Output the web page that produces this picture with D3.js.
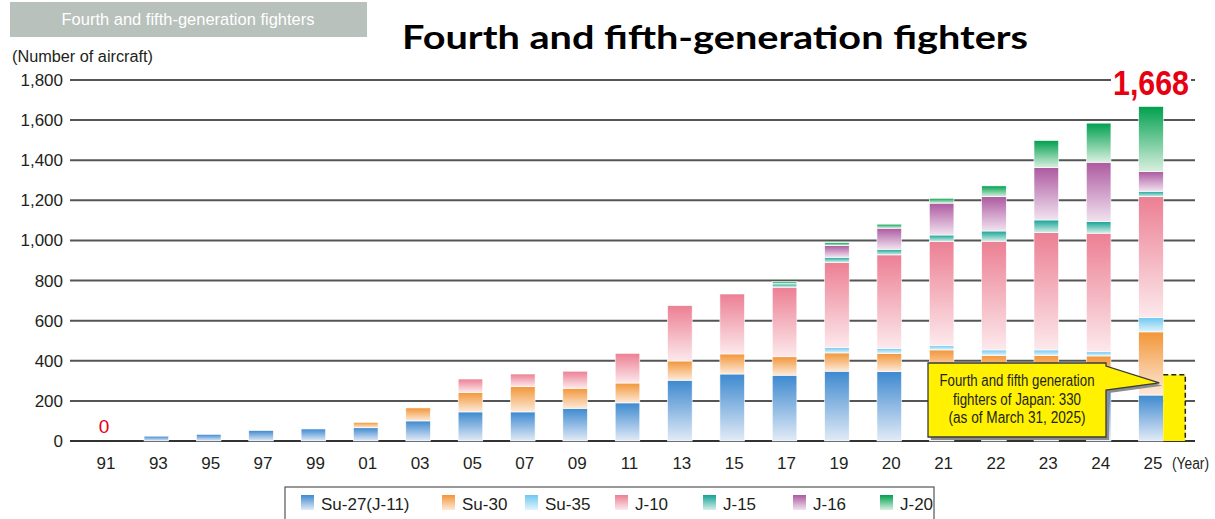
<!DOCTYPE html>
<html>
<head>
<meta charset="utf-8">
<script src="https://cdn.jsdelivr.net/npm/d3@7"></script>
<style>
  body { margin: 0; background: #fff; }
  svg { display: block; }
  .narrow { font-family: "Liberation Sans Narrow", "Arial Narrow", "Liberation Sans", sans-serif; }
</style>
</head>
<body>
<svg id="chart" width="1215" height="519"></svg>
<script>
// data (number of aircraft)
const years = ["91","93","95","97","99","01","03","05","07","09","11","13","15","17","19","20","21","22","23","24","25"];
const su27 = [0, 24, 33, 52, 60, 66, 100, 145, 145, 163, 190, 303, 334, 328, 348, 346, 340, 320, 290, 246, 229];
const su30 = [0, 0, 0, 0, 0, 27, 65, 98, 126, 100, 99, 96, 100, 92, 91, 91, 114, 107, 137, 178, 315];
const su35 = [0, 0, 0, 0, 0, 0, 0, 0, 0, 0, 0, 0, 0, 0, 26, 25, 23, 27, 27, 21, 71];
const j10  = [0, 0, 0, 0, 0, 0, 0, 66, 63, 85, 148, 276, 299, 347, 426, 466, 517, 542, 585, 591, 603];
const j15  = [0, 0, 0, 0, 0, 0, 0, 0, 0, 0, 0, 0, 0, 16, 25, 28, 33, 51, 63, 58, 27];
const j16  = [0, 0, 0, 0, 0, 0, 0, 0, 0, 0, 0, 0, 0, 0, 58, 105, 159, 171, 261, 296, 98];
const j20  = [0, 0, 0, 0, 0, 0, 0, 0, 0, 0, 0, 0, 0, 12, 15, 20, 24, 54, 135, 195, 325];
const seriesNames = ["Su-27(J-11)", "Su-30", "Su-35", "J-10", "J-15", "J-16", "J-20"];
const yTicks = [0, 200, 400, 600, 800, 1000, 1200, 1400, 1600, 1800];
const japanCount = 330;
const totalLabel = "1,668";
const calloutLines = ["Fourth and fifth generation", "fighters of Japan: 330", "(as of March 31, 2025)"];

const seriesValues = [su27, su30, su35, j10, j15, j16, j20];
const topColors = ["#3d89cf", "#f29638", "#6ec8f0", "#ec7f93", "#14a294", "#ad59a0", "#00a04e"];
const bottomColors = ["#e2ebf7", "#fdeada", "#e2f4fc", "#fce9ec", "#d6efeb", "#f1e3f0", "#d9f0e0"];

const rows = years.map((y, i) => {
  const r = { year: y };
  seriesNames.forEach((s, k) => r[s] = seriesValues[k][i]);
  return r;
});

const svg = d3.select("#chart");

const x = d3.scalePoint().domain(years).range([104, 1151]);
const barW = x.step() * 0.47;
const y = d3.scaleLinear().domain([0, 1800]).range([441, 80]);

// gradients, dark at top and pale at bottom
const defs = svg.append("defs");
seriesNames.forEach((s, k) => {
  const g = defs.append("linearGradient")
    .attr("id", "grad" + k)
    .attr("x1", 0).attr("y1", 0).attr("x2", 0).attr("y2", 1);
  g.append("stop").attr("offset", "0%").attr("stop-color", topColors[k]);
  g.append("stop").attr("offset", "100%").attr("stop-color", bottomColors[k]);
});

// header box
svg.append("rect")
  .attr("x", 10).attr("y", 2).attr("width", 357).attr("height", 35)
  .attr("fill", "#b8c1bc");
svg.append("text")
  .attr("class", "narrow")
  .attr("x", 188).attr("y", 25)
  .attr("text-anchor", "middle")
  .attr("font-size", 17).attr("fill", "#fff")
  .attr("textLength", 253).attr("lengthAdjust", "spacingAndGlyphs")
  .text("Fourth and fifth-generation fighters");

// big title
svg.append("text")
  .attr("x", 402).attr("y", 49)
  .attr("font-family", "Lato, 'Open Sans', sans-serif")
  .attr("font-weight", "bold")
  .attr("font-size", 32)
  .attr("textLength", 626).attr("lengthAdjust", "spacingAndGlyphs")
  .attr("fill", "#000")
  .text("Fourth and fifth-generation fighters");

svg.append("text")
  .attr("class", "narrow")
  .attr("x", 12).attr("y", 62)
  .attr("font-size", 16).attr("fill", "#231f20")
  .attr("textLength", 141).attr("lengthAdjust", "spacingAndGlyphs")
  .text("(Number of aircraft)");

// grid + y labels
const grid = svg.append("g");
grid.selectAll("line")
  .data(yTicks)
  .enter().append("line")
  .attr("x1", 70).attr("x2", 1195)
  .attr("y1", d => y(d)).attr("y2", d => y(d))
  .attr("stroke", d => d === 0 ? "#333" : "#555")
  .attr("stroke-width", 2);
grid.selectAll("text")
  .data(yTicks)
  .enter().append("text")
  .attr("class", "narrow")
  .attr("x", 63).attr("y", d => y(d) + 6)
  .attr("text-anchor", "end")
  .attr("font-size", 17).attr("fill", "#231f20")
  .text(d => d3.format(",")(d));

// stacked bars
const stacked = d3.stack().keys(seriesNames)(rows);
svg.append("g")
  .selectAll("g")
  .data(stacked)
  .enter().append("g")
  .attr("fill", (d, k) => `url(#grad${k})`)
  .selectAll("rect")
  .data(d => d.filter(p => p[1] > p[0]))
  .enter().append("rect")
  .attr("x", d => x(d.data.year) - barW / 2)
  .attr("width", barW)
  .attr("y", d => y(d[1]))
  .attr("height", d => y(d[0]) - y(d[1]))
  .attr("stroke", "#fff")
  .attr("stroke-width", 0.6);

// x labels
svg.append("g")
  .selectAll("text")
  .data(years)
  .enter().append("text")
  .attr("class", "narrow")
  .attr("x", d => x(d) + 2).attr("y", 469)
  .attr("text-anchor", "middle")
  .attr("font-size", 17).attr("fill", "#231f20")
  .text(d => d);
svg.append("text")
  .attr("class", "narrow")
  .attr("x", 1172).attr("y", 469)
  .attr("font-size", 16).attr("fill", "#231f20")
  .attr("textLength", 37).attr("lengthAdjust", "spacingAndGlyphs")
  .text("(Year)");

// zero label for 1991
svg.append("text")
  .attr("class", "narrow")
  .attr("x", x("91")).attr("y", 433)
  .attr("text-anchor", "middle")
  .attr("font-size", 19).attr("fill", "#e60012")
  .text("0");

// total label for 2025
const last = years[years.length - 1];
svg.append("rect")
  .attr("x", x(last) - 40).attr("y", 72).attr("width", 80).attr("height", 20)
  .attr("fill", "#fff");
svg.append("text")
  .attr("class", "narrow")
  .attr("x", x(last)).attr("y", 95)
  .attr("text-anchor", "middle")
  .attr("font-size", 35).attr("font-weight", "bold")
  .attr("textLength", 76).attr("lengthAdjust", "spacingAndGlyphs")
  .attr("fill", "#e60012")
  .text(totalLabel);

// Japan bar (yellow, dashed)
const jx = x(last) + barW / 2;
const jw = 22;
svg.append("rect")
  .attr("x", jx).attr("y", y(japanCount))
  .attr("width", jw).attr("height", y(0) - y(japanCount))
  .attr("fill", "#fff100");
svg.append("path")
  .attr("d", `M${jx},${y(japanCount)}H${jx + jw}V${y(0)}`)
  .attr("fill", "none")
  .attr("stroke", "#222").attr("stroke-width", 1.5)
  .attr("stroke-dasharray", "5,3");

// callout
const bx = 928, by = 363, bw = 178, bh = 74;
const tip = [jx - 4, y(japanCount) + 8];
const calloutPath = `M${bx},${by}H${bx + bw}V${by + 3}L${tip[0]},${tip[1]}L${bx + bw},${by + 27}V${by + bh}H${bx}Z`;
svg.append("path")
  .attr("d", calloutPath)
  .attr("transform", "translate(3,3)")
  .attr("fill", "#8c8c8c");
svg.append("path")
  .attr("d", calloutPath)
  .attr("fill", "#fff100")
  .attr("stroke", "#3a3a3a").attr("stroke-width", 1.3);
svg.append("g")
  .selectAll("text")
  .data(calloutLines)
  .enter().append("text")
  .attr("class", "narrow")
  .attr("x", bx + bw / 2).attr("y", (d, i) => by + 23 + i * 18.5)
  .attr("text-anchor", "middle")
  .attr("font-size", 16).attr("fill", "#231f20")
  .attr("textLength", (d, i) => [155, 128, 137][i]).attr("lengthAdjust", "spacingAndGlyphs")
  .text(d => d);

// legend
const legX = [301, 442, 525, 615, 703, 793, 880];
const leg = svg.append("g");
leg.append("rect")
  .attr("x", 285).attr("y", 487).attr("width", 649).attr("height", 45)
  .attr("fill", "#fff").attr("stroke", "#555").attr("stroke-width", 1.2);
const items = leg.selectAll("g.item")
  .data(seriesNames)
  .enter().append("g")
  .attr("class", "item")
  .attr("transform", (d, k) => `translate(${legX[k]},0)`);
items.append("rect")
  .attr("x", 0).attr("y", 495).attr("width", 13).attr("height", 15)
  .attr("fill", (d, k) => `url(#grad${k})`);
items.append("text")
  .attr("class", "narrow")
  .attr("x", 20).attr("y", 510)
  .attr("font-size", 17).attr("fill", "#231f20")
  .text(d => d);
</script>
</body>
</html>
